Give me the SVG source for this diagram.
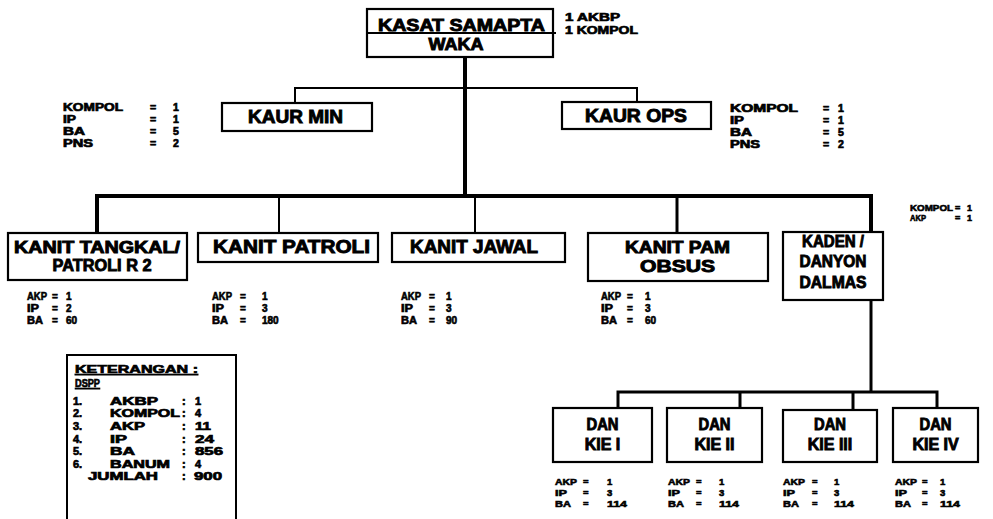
<svg xmlns="http://www.w3.org/2000/svg" width="993" height="519" viewBox="0 0 993 519">
<style>
text{font-family:"Liberation Sans",Arial,sans-serif;font-weight:bold;fill:#000;stroke:#000}
.t{font-size:18px;text-anchor:middle;stroke-width:0.9}
.s{font-size:10px;stroke-width:0.6}
.b{font-size:9.5px;stroke-width:0.6}
.k{font-size:10.5px;stroke-width:0.7}
.n{font-size:11px;stroke-width:0.7}
.box{fill:#fff;stroke:#000;stroke-width:2.2}
.thin{stroke:#000;stroke-width:2;fill:none}
.thick{stroke:#000;stroke-width:4;fill:none}
.mid{stroke:#000;stroke-width:3;fill:none}
</style>
<rect width="993" height="519" fill="#fff" stroke="none"/>
<g id="connectors">
<line class="thick" x1="465" y1="57" x2="465" y2="198"/>
<polyline class="thin" points="295,103 295,88 637,88 637,102"/>
<polyline class="thick" points="97,233 97,196 871,196 871,232"/>
<line class="thin" x1="279" y1="196" x2="279" y2="233"/>
<line class="thin" x1="475" y1="196" x2="475" y2="233"/>
<line class="mid" x1="677" y1="196" x2="677" y2="233"/>
<line class="mid" x1="871" y1="300" x2="871" y2="392"/>
<polyline class="mid" points="618,408 618,392 937,392 937,408"/>
<line class="mid" x1="740" y1="392" x2="740" y2="408"/>
<line class="mid" x1="853" y1="392" x2="853" y2="410"/>
</g>
<g id="kasat">
<rect class="box" x="367" y="9" width="186" height="48"/>
<line x1="367" y1="33" x2="556" y2="33" stroke="#000" stroke-width="2"/>
<text class="t" x="461.5" y="31" style="font-size:16px" textLength="167" lengthAdjust="spacingAndGlyphs">KASAT SAMAPTA</text>
<text class="t" x="456" y="50" style="font-size:16px" textLength="55" lengthAdjust="spacingAndGlyphs">WAKA</text>
<text class="n" x="565" y="21" textLength="55" lengthAdjust="spacingAndGlyphs">1 AKBP</text>
<text class="n" x="565" y="34" textLength="73" lengthAdjust="spacingAndGlyphs">1 KOMPOL</text>
</g>
<g id="kaur-min">
<rect class="box" x="222" y="103" width="150" height="28"/>
<text class="t" x="295.5" y="123" textLength="95" lengthAdjust="spacingAndGlyphs">KAUR MIN</text>
<text class="k" x="63" y="111" textLength="60" lengthAdjust="spacingAndGlyphs">KOMPOL</text><text class="k" x="150" y="111">=</text><text class="k" x="173" y="111">1</text>
<text class="k" x="63" y="123" textLength="13" lengthAdjust="spacingAndGlyphs">IP</text><text class="k" x="150" y="123">=</text><text class="k" x="173" y="123">1</text>
<text class="k" x="63" y="135" textLength="22" lengthAdjust="spacingAndGlyphs">BA</text><text class="k" x="150" y="135">=</text><text class="k" x="173" y="135">5</text>
<text class="k" x="63" y="147" textLength="30" lengthAdjust="spacingAndGlyphs">PNS</text><text class="k" x="150" y="147">=</text><text class="k" x="173" y="147">2</text>
</g>
<g id="kaur-ops">
<rect class="box" x="562" y="102" width="149" height="27"/>
<text class="t" x="636" y="122" textLength="102" lengthAdjust="spacingAndGlyphs">KAUR OPS</text>
<text class="k" x="730" y="112" textLength="68" lengthAdjust="spacingAndGlyphs">KOMPOL</text><text class="k" x="823" y="112">=</text><text class="k" x="838" y="112">1</text>
<text class="k" x="730" y="124" textLength="14" lengthAdjust="spacingAndGlyphs">IP</text><text class="k" x="823" y="124">=</text><text class="k" x="838" y="124">1</text>
<text class="k" x="730" y="136" textLength="22" lengthAdjust="spacingAndGlyphs">BA</text><text class="k" x="823" y="136">=</text><text class="k" x="838" y="136">5</text>
<text class="k" x="730" y="148" textLength="30" lengthAdjust="spacingAndGlyphs">PNS</text><text class="k" x="823" y="148">=</text><text class="k" x="838" y="148">2</text>
</g>
<g id="kanit-tangkal">
<rect class="box" x="8" y="233" width="179" height="47"/>
<text class="t" x="97" y="253" style="font-size:16px" textLength="166" lengthAdjust="spacingAndGlyphs">KANIT TANGKAL/</text>
<text class="t" x="102" y="271" style="font-size:16px" textLength="99" lengthAdjust="spacingAndGlyphs">PATROLI R 2</text>
<text class="s" x="27" y="300" textLength="20" lengthAdjust="spacingAndGlyphs">AKP</text><text class="s" x="52" y="300">=</text><text class="s" x="66" y="300">1</text>
<text class="s" x="27" y="312" textLength="12" lengthAdjust="spacingAndGlyphs">IP</text><text class="s" x="52" y="312">=</text><text class="s" x="66" y="312">2</text>
<text class="s" x="27" y="324" textLength="16" lengthAdjust="spacingAndGlyphs">BA</text><text class="s" x="52" y="324">=</text><text class="s" x="66" y="324">60</text>
</g>
<g id="kanit-patroli">
<rect class="box" x="198" y="233" width="180" height="29"/>
<text class="t" x="291.5" y="253" textLength="157" lengthAdjust="spacingAndGlyphs">KANIT PATROLI</text>
<text class="s" x="212" y="300" textLength="20" lengthAdjust="spacingAndGlyphs">AKP</text><text class="s" x="240" y="300">=</text><text class="s" x="262" y="300">1</text>
<text class="s" x="212" y="312" textLength="12" lengthAdjust="spacingAndGlyphs">IP</text><text class="s" x="240" y="312">=</text><text class="s" x="262" y="312">3</text>
<text class="s" x="212" y="324" textLength="16" lengthAdjust="spacingAndGlyphs">BA</text><text class="s" x="240" y="324">=</text><text class="s" x="262" y="324">180</text>
</g>
<g id="kanit-jawal">
<rect class="box" x="392" y="233" width="173" height="29"/>
<text class="t" x="474" y="253" textLength="128" lengthAdjust="spacingAndGlyphs">KANIT JAWAL</text>
<text class="s" x="401" y="300" textLength="20" lengthAdjust="spacingAndGlyphs">AKP</text><text class="s" x="429" y="300">=</text><text class="s" x="446" y="300">1</text>
<text class="s" x="401" y="312" textLength="12" lengthAdjust="spacingAndGlyphs">IP</text><text class="s" x="429" y="312">=</text><text class="s" x="446" y="312">3</text>
<text class="s" x="401" y="324" textLength="16" lengthAdjust="spacingAndGlyphs">BA</text><text class="s" x="429" y="324">=</text><text class="s" x="446" y="324">90</text>
</g>
<g id="kanit-pam-obsus">
<rect class="box" x="588" y="233" width="180" height="48"/>
<text class="t" x="677.5" y="253" style="font-size:16px" textLength="105" lengthAdjust="spacingAndGlyphs">KANIT PAM</text>
<text class="t" x="677.5" y="272" style="font-size:16px" textLength="75" lengthAdjust="spacingAndGlyphs">OBSUS</text>
<text class="s" x="601" y="300" textLength="20" lengthAdjust="spacingAndGlyphs">AKP</text><text class="s" x="627" y="300">=</text><text class="s" x="645" y="300">1</text>
<text class="s" x="601" y="312" textLength="12" lengthAdjust="spacingAndGlyphs">IP</text><text class="s" x="627" y="312">=</text><text class="s" x="645" y="312">3</text>
<text class="s" x="601" y="324" textLength="16" lengthAdjust="spacingAndGlyphs">BA</text><text class="s" x="627" y="324">=</text><text class="s" x="645" y="324">60</text>
</g>
<g id="kaden-danyon">
<rect class="box" x="783" y="232" width="100" height="68"/>
<text class="t" x="833" y="247" style="font-size:16px" textLength="62" lengthAdjust="spacingAndGlyphs">KADEN /</text>
<text class="t" x="833" y="267" style="font-size:16px" textLength="67" lengthAdjust="spacingAndGlyphs">DANYON</text>
<text class="t" x="833" y="288" style="font-size:16px" textLength="67" lengthAdjust="spacingAndGlyphs">DALMAS</text>
<text class="b" x="910" y="211" style="font-size:9px" textLength="43" lengthAdjust="spacingAndGlyphs">KOMPOL</text><text class="b" x="955" y="211" style="font-size:9px">=</text><text class="b" x="967" y="211" style="font-size:9px">1</text>
<text class="b" x="910" y="221" style="font-size:9px" textLength="16" lengthAdjust="spacingAndGlyphs">AKP</text><text class="b" x="955" y="221" style="font-size:9px">=</text><text class="b" x="967" y="221" style="font-size:9px">1</text>
</g>
<g id="dan-kie-1">
<rect class="box" x="553" y="408" width="99" height="54"/>
<text class="t" x="602.5" y="430" style="font-size:16px" textLength="32" lengthAdjust="spacingAndGlyphs">DAN</text>
<text class="t" x="602.5" y="450" style="font-size:16px">KIE I</text>
<text class="b" x="555" y="485" textLength="22" lengthAdjust="spacingAndGlyphs">AKP</text><text class="b" x="583" y="485">=</text><text class="b" x="607" y="485">1</text>
<text class="b" x="555" y="496" textLength="12" lengthAdjust="spacingAndGlyphs">IP</text><text class="b" x="583" y="496">=</text><text class="b" x="607" y="496">3</text>
<text class="b" x="555" y="507" textLength="16" lengthAdjust="spacingAndGlyphs">BA</text><text class="b" x="583" y="507">=</text><text class="b" x="607" y="507" textLength="20" lengthAdjust="spacingAndGlyphs">114</text>
</g>
<g id="dan-kie-2">
<rect class="box" x="667" y="408" width="95" height="54"/>
<text class="t" x="714.5" y="430" style="font-size:16px" textLength="32" lengthAdjust="spacingAndGlyphs">DAN</text>
<text class="t" x="714.5" y="450" style="font-size:16px">KIE II</text>
<text class="b" x="668" y="485" textLength="22" lengthAdjust="spacingAndGlyphs">AKP</text><text class="b" x="696" y="485">=</text><text class="b" x="719" y="485">1</text>
<text class="b" x="668" y="496" textLength="12" lengthAdjust="spacingAndGlyphs">IP</text><text class="b" x="696" y="496">=</text><text class="b" x="719" y="496">3</text>
<text class="b" x="668" y="507" textLength="16" lengthAdjust="spacingAndGlyphs">BA</text><text class="b" x="696" y="507">=</text><text class="b" x="719" y="507" textLength="20" lengthAdjust="spacingAndGlyphs">114</text>
</g>
<g id="dan-kie-3">
<rect class="box" x="783" y="410" width="94" height="52"/>
<text class="t" x="830" y="430" style="font-size:16px" textLength="32" lengthAdjust="spacingAndGlyphs">DAN</text>
<text class="t" x="830" y="450" style="font-size:16px">KIE III</text>
<text class="b" x="783" y="485" textLength="22" lengthAdjust="spacingAndGlyphs">AKP</text><text class="b" x="812" y="485">=</text><text class="b" x="834" y="485">1</text>
<text class="b" x="783" y="496" textLength="12" lengthAdjust="spacingAndGlyphs">IP</text><text class="b" x="812" y="496">=</text><text class="b" x="834" y="496">3</text>
<text class="b" x="783" y="507" textLength="16" lengthAdjust="spacingAndGlyphs">BA</text><text class="b" x="812" y="507">=</text><text class="b" x="834" y="507" textLength="20" lengthAdjust="spacingAndGlyphs">114</text>
</g>
<g id="dan-kie-4">
<rect class="box" x="893" y="408" width="85" height="54"/>
<text class="t" x="935.5" y="430" style="font-size:16px" textLength="32" lengthAdjust="spacingAndGlyphs">DAN</text>
<text class="t" x="935.5" y="450" style="font-size:16px">KIE IV</text>
<text class="b" x="895" y="485" textLength="22" lengthAdjust="spacingAndGlyphs">AKP</text><text class="b" x="922" y="485">=</text><text class="b" x="940" y="485">1</text>
<text class="b" x="895" y="496" textLength="12" lengthAdjust="spacingAndGlyphs">IP</text><text class="b" x="922" y="496">=</text><text class="b" x="940" y="496">3</text>
<text class="b" x="895" y="507" textLength="16" lengthAdjust="spacingAndGlyphs">BA</text><text class="b" x="922" y="507">=</text><text class="b" x="940" y="507" textLength="20" lengthAdjust="spacingAndGlyphs">114</text>
</g>
<g id="keterangan">
<rect x="67" y="355" width="169" height="175" fill="none" stroke="#000" stroke-width="2"/>
<text class="n" x="75" y="373" style="text-decoration:underline" textLength="123" lengthAdjust="spacingAndGlyphs">KETERANGAN :</text>
<text class="n" x="75" y="387" style="text-decoration:underline" textLength="25" lengthAdjust="spacingAndGlyphs">DSPP</text>
<text class="n" x="73" y="405">1.</text><text class="n" x="110" y="405" textLength="48" lengthAdjust="spacingAndGlyphs">AKBP</text><text class="n" x="182" y="405">:</text><text class="n" x="195" y="405">1</text>
<text class="n" x="73" y="417">2.</text><text class="n" x="110" y="417" textLength="70" lengthAdjust="spacingAndGlyphs">KOMPOL</text><text class="n" x="182" y="417">:</text><text class="n" x="195" y="417">4</text>
<text class="n" x="73" y="430">3.</text><text class="n" x="110" y="430" textLength="35" lengthAdjust="spacingAndGlyphs">AKP</text><text class="n" x="182" y="430">:</text><text class="n" x="195" y="430" textLength="16" lengthAdjust="spacingAndGlyphs">11</text>
<text class="n" x="73" y="443">4.</text><text class="n" x="110" y="443" textLength="17" lengthAdjust="spacingAndGlyphs">IP</text><text class="n" x="182" y="443">:</text><text class="n" x="195" y="443" textLength="19" lengthAdjust="spacingAndGlyphs">24</text>
<text class="n" x="73" y="455">5.</text><text class="n" x="110" y="455" textLength="25" lengthAdjust="spacingAndGlyphs">BA</text><text class="n" x="182" y="455">:</text><text class="n" x="195" y="455" textLength="28" lengthAdjust="spacingAndGlyphs">856</text>
<text class="n" x="73" y="468">6.</text><text class="n" x="110" y="468" textLength="60" lengthAdjust="spacingAndGlyphs">BANUM</text><text class="n" x="182" y="468">:</text><text class="n" x="195" y="468">4</text>
<text class="n" x="88" y="480" textLength="70" lengthAdjust="spacingAndGlyphs">JUMLAH</text><text class="n" x="182" y="480">:</text><text class="n" x="194" y="480" textLength="28" lengthAdjust="spacingAndGlyphs">900</text>
</g>
</svg>
